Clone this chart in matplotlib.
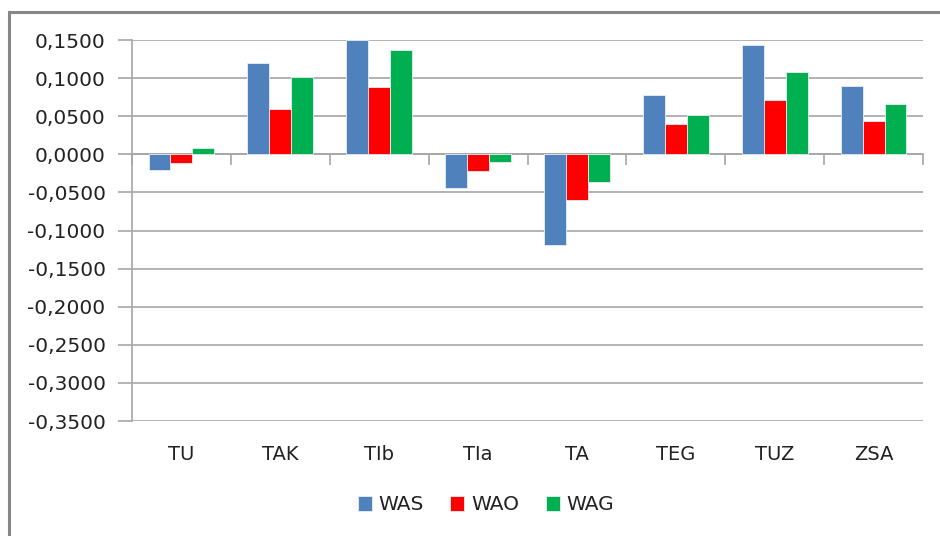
import numpy as np
import matplotlib
matplotlib.use('Agg')
import matplotlib.pyplot as plt
from matplotlib.patches import Rectangle
from matplotlib.ticker import FuncFormatter, MultipleLocator

# values
categories = ['TU', 'TAK', 'TIb', 'TIa', 'TA', 'TEG', 'TUZ', 'ZSA']
was = [-0.021, 0.120, 0.150, -0.044, -0.119, 0.078, 0.143, 0.090]
wao = [-0.012, 0.060, 0.088, -0.022, -0.060, 0.040, 0.071, 0.044]
wag = [0.008, 0.101, 0.137, -0.010, -0.036, 0.052, 0.108, 0.066]
series_names = ['WAS', 'WAO', 'WAG']
colors = ['#4F81BD', '#FF0000', '#00B050']

W, H = 940, 536
fig = plt.figure(figsize=(W / 100, H / 100), dpi=100)
plt.rcParams['font.family'] = ['DejaVu Sans']

# plot area in pixel terms
left, right, top, bottom = 132, 923, 40, 421
ax = fig.add_axes([left / W, 1 - bottom / H, (right - left) / W, (bottom - top) / H])

grid_c = '#A6A6A6'
txt_c = '#222222'
x = np.arange(len(categories))
bw = 0.222
for i, (vals, name, c) in enumerate(zip([was, wao, wag], series_names, colors)):
    ax.bar(x + (i - 1) * bw, vals, width=bw, color=c, edgecolor='#E8EEF5',
           linewidth=0.6, label=name, zorder=3)

ax.set_xlim(-0.5, len(categories) - 0.5)
ax.set_ylim(-0.35, 0.15)
ax.yaxis.set_major_locator(MultipleLocator(0.05))
ax.yaxis.set_major_formatter(FuncFormatter(lambda v, p: ('%.4f' % v).replace('.', ',').replace('-0,0000', '0,0000')))
ax.grid(axis='y', color=grid_c, linewidth=1.2, zorder=0)
ax.tick_params(axis='y', length=10, color=grid_c, width=1.2, labelsize=14.5, pad=9, labelcolor=txt_c)

for s in ['top', 'right']:
    ax.spines[s].set_visible(False)
ax.spines['left'].set_color(grid_c)
ax.spines['left'].set_linewidth(1.2)
ax.spines['bottom'].set_position(('data', 0))
ax.spines['bottom'].set_color(grid_c)
ax.spines['bottom'].set_linewidth(1.2)
ax.spines['bottom'].set_zorder(2)
ax.set_xticks(np.arange(-0.5, len(categories), 1.0))
ax.set_xticklabels([])
ax.tick_params(axis='x', length=8, color=grid_c, width=1.2, direction='out')

for i, cat in enumerate(categories):
    ax.annotate(cat, xy=(i, 0), xycoords=('data', 'axes fraction'),
                xytext=(0, -34), textcoords='offset pixels',
                ha='center', va='center', fontsize=14, color=txt_c)

handles, labels = ax.get_legend_handles_labels()
fig.legend(handles, labels, loc='center', bbox_to_anchor=(486 / W, 1 - 505 / H),
           ncol=3, frameon=False, fontsize=14.5, handlelength=0.7, handleheight=0.7,
           handletextpad=0.35, columnspacing=1.3, labelcolor=txt_c)

# outer chart border (cropped at right and bottom in the reference)
fig.patches.append(Rectangle((9 / W, -0.1), 2.0, 1.1 - 12 / H, transform=fig.transFigure,
                             fill=False, edgecolor='#878787', linewidth=2.2))

fig.savefig('out.png', dpi=100)
